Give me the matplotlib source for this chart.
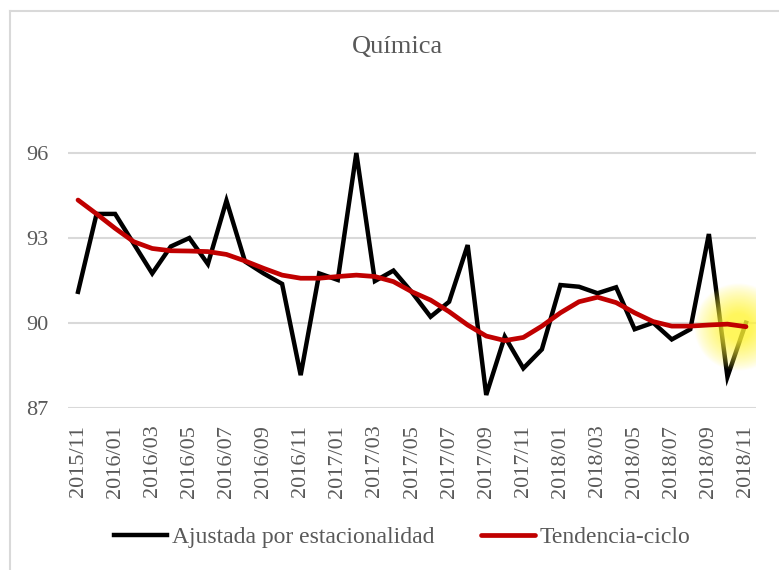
import numpy as np
import matplotlib.pyplot as plt
from matplotlib.lines import Line2D

# ---- data ----
months = ["2015/11", "2015/12", "2016/01", "2016/02", "2016/03", "2016/04", "2016/05",
          "2016/06", "2016/07", "2016/08", "2016/09", "2016/10", "2016/11", "2016/12",
          "2017/01", "2017/02", "2017/03", "2017/04", "2017/05", "2017/06", "2017/07",
          "2017/08", "2017/09", "2017/10", "2017/11", "2017/12", "2018/01", "2018/02",
          "2018/03", "2018/04", "2018/05", "2018/06", "2018/07", "2018/08", "2018/09",
          "2018/10", "2018/11"]

ajustada = [91.1, 93.85, 93.85, 92.8, 91.75, 92.7, 93.0, 92.08, 94.32, 92.17, 91.75,
            91.38, 88.16, 91.75, 91.52, 96.0, 91.48, 91.85, 91.08, 90.22, 90.75, 92.75,
            87.46, 89.52, 88.4, 89.07, 91.34, 91.28, 91.05, 91.26, 89.78, 90.01, 89.42,
            89.78, 93.14, 88.1, 90.01]

tendencia = [94.34, 93.85, 93.34, 92.87, 92.63, 92.55, 92.54, 92.52, 92.42, 92.19, 91.93,
             91.69, 91.58, 91.58, 91.64, 91.69, 91.64, 91.46, 91.1, 90.81, 90.4, 89.93,
             89.54, 89.38, 89.49, 89.89, 90.36, 90.75, 90.91, 90.72, 90.36, 90.05, 89.89,
             89.89, 89.93, 89.96, 89.87]

y_ticks = [87, 90, 93, 96]

GREY_TXT = '#595959'
GRID = '#d9d9d9'
FONT = 'Liberation Serif'

plt.rcParams['font.family'] = FONT

W, H = 779, 570
fig = plt.figure(figsize=(W / 100, H / 100), dpi=100)
ax = fig.add_axes([68 / W, (H - 408) / H, (756 - 68) / W, (408 - 68) / H])

x = np.arange(len(months))

ax.plot(x, ajustada, color='black', lw=3.2, solid_joinstyle='miter', zorder=3,
        label='Ajustada por estacionalidad')
ax.plot(x, tendencia, color='#c00000', lw=3.4, solid_joinstyle='round',
        solid_capstyle='round', zorder=5, label='Tendencia-ciclo')

# yellow glow on the last point of the trend
gx, gy = x[-1] - 0.4, tendencia[-1]
rx, ry = 2.4, 1.55
n = 200
xx, yy = np.meshgrid(np.linspace(-1, 1, n), np.linspace(-1, 1, n))
r = np.sqrt(xx ** 2 + yy ** 2)
alpha = np.clip((1 - r) / 0.7, 0, 1) ** 0.8 * 0.8
img = np.zeros((n, n, 4))
img[..., 0] = 1.0
img[..., 1] = 0.96
img[..., 2] = 0.2
img[..., 3] = alpha
ax.imshow(img, extent=[gx - rx, gx + rx, gy - ry, gy + ry], aspect='auto',
          zorder=4, interpolation='bilinear')

ax.set_xlim(-0.54, len(months) - 1 + 0.54)
ax.set_ylim(87, 99)
ax.set_yticks(y_ticks)
ax.set_yticklabels([str(v) for v in y_ticks])
ax.set_xticks(x[::2])
ax.set_xticklabels(months[::2], rotation=90)
ax.tick_params(axis='both', length=0, labelsize=16, colors=GREY_TXT)
ax.tick_params(axis='y', pad=14)
ax.tick_params(axis='x', pad=12)
ax.yaxis.grid(True, color=GRID, lw=1.5)
ax.set_axisbelow(True)
for s in ax.spines.values():
    s.set_visible(False)

fig.text(397 / W, 1 - 47 / H, 'Química', ha='center', va='center',
         fontsize=19, color=GREY_TXT)

leg = fig.legend(loc='center', bbox_to_anchor=(402 / W, 1 - 537 / H), ncol=2,
                 frameon=False, fontsize=17, handlelength=2.25, handletextpad=0.2,
                 columnspacing=2.0, labelcolor=GREY_TXT)

# chart-area border (only left and top edges visible)
fig.add_artist(Line2D([10 / W, 10 / W], [0, 1 - 11 / H], transform=fig.transFigure,
                      color=GRID, lw=1.5))
fig.add_artist(Line2D([10 / W, 1], [1 - 11 / H, 1 - 11 / H], transform=fig.transFigure,
                      color=GRID, lw=1.5))

fig.savefig('out.png', dpi=100)
